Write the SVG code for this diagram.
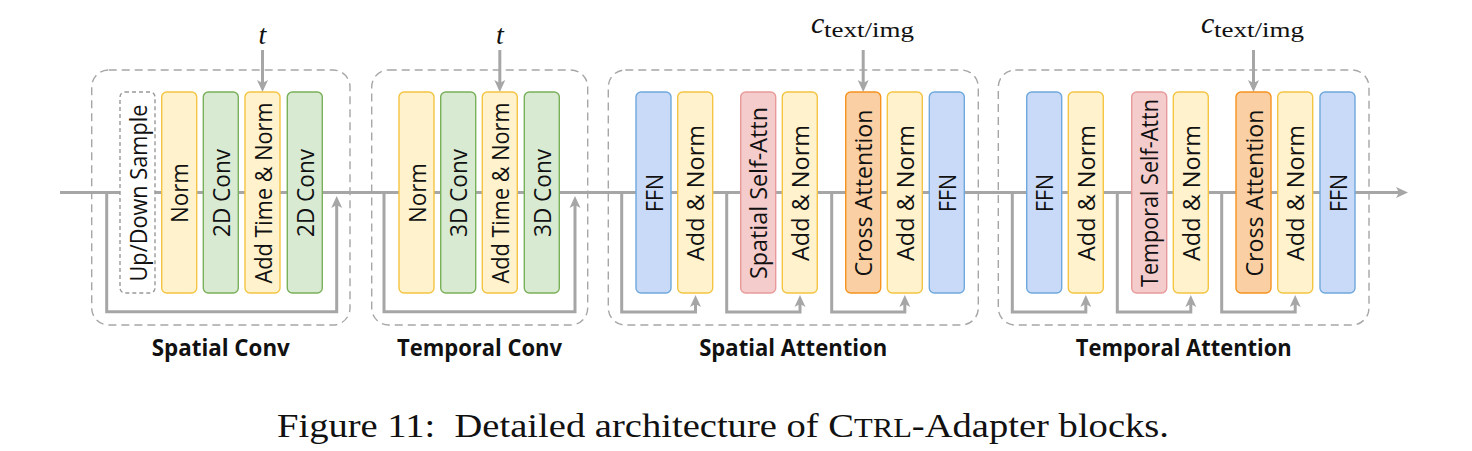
<svg xmlns="http://www.w3.org/2000/svg" width="1472" height="451" viewBox="0 0 1472 451">
<style>
.bg{fill:#ffffff}
.grp{fill:none;stroke:#a6a6a6;stroke-width:1.4;stroke-dasharray:8 5}
.blk{stroke-width:1.4}
.y{fill:#fff2cc;stroke:#f4c542}
.g{fill:#d9ead3;stroke:#79b05a}
.b{fill:#c9daf8;stroke:#6fa8dc}
.r{fill:#f4cccc;stroke:#e89a9a}
.o{fill:#f9cfa3;stroke:#f6921e}
.w{fill:#ffffff;stroke:#999999;stroke-dasharray:4 3}
.lbl{font-family:"Open Sans","Liberation Sans",sans-serif;font-size:23.5px;fill:#111111;text-anchor:middle;dominant-baseline:central}
.ttl{font-family:"Open Sans","Liberation Sans",sans-serif;font-size:22.5px;font-weight:bold;fill:#111111;text-anchor:middle}
.ln{fill:none;stroke:#a6a6a6;stroke-width:3}
.math{font-family:"Liberation Serif","Times New Roman",serif;fill:#111111}
.cap{font-family:"Liberation Serif","Times New Roman",serif;font-size:34px;fill:#111111}
</style>
<defs>
<marker id="arr" markerUnits="userSpaceOnUse" markerWidth="12" markerHeight="12" viewBox="0 0 12 12" refX="4" refY="6" orient="auto">
<path d="M0,0.5 L12,6 L0,11.5 L3,6 z" fill="#a6a6a6"/>
</marker>
</defs>
<rect class="bg" x="0" y="0" width="1472" height="451"/>

<g id="groups">
<rect class="grp" x="91.7" y="70" width="258.3" height="255" rx="17"/>
<rect class="grp" x="371.7" y="70" width="216" height="255" rx="17"/>
<rect class="grp" x="608.3" y="70" width="370" height="255" rx="17"/>
<rect class="grp" x="998.3" y="70" width="370.7" height="255" rx="17"/>
</g>

<g id="connectors">
<path class="ln" d="M60,192.5 L1400,192.5" marker-end="url(#arr)"/>
<path class="ln" d="M106.7,192.5 L106.7,311.7 L336.7,311.7 L336.7,204" marker-end="url(#arr)"/>
<path class="ln" d="M384,192.5 L384,311.7 L575,311.7 L575,204" marker-end="url(#arr)"/>
<path class="ln" d="M621.7,192.5 L621.7,312 L695.5,312 L695.5,303" marker-end="url(#arr)"/>
<path class="ln" d="M726.7,192.5 L726.7,312 L800,312 L800,303" marker-end="url(#arr)"/>
<path class="ln" d="M831.7,192.5 L831.7,312 L904.8,312 L904.8,303" marker-end="url(#arr)"/>
<path class="ln" d="M1012.3,192.5 L1012.3,312 L1085.8,312 L1085.8,303" marker-end="url(#arr)"/>
<path class="ln" d="M1117.3,192.5 L1117.3,312 L1190.8,312 L1190.8,303" marker-end="url(#arr)"/>
<path class="ln" d="M1221.7,192.5 L1221.7,312 L1295.2,312 L1295.2,303" marker-end="url(#arr)"/>
<path class="ln" d="M262.5,50 L262.5,84" marker-end="url(#arr)"/>
<path class="ln" d="M499.8,50 L499.8,84" marker-end="url(#arr)"/>
<path class="ln" d="M863.2,50 L863.2,84" marker-end="url(#arr)"/>
<path class="ln" d="M1253.5,50 L1253.5,84" marker-end="url(#arr)"/>
</g>

<g id="sc-updown"><rect class="blk w" x="120" y="92" width="35" height="201" rx="5"/><text class="lbl" x="137.5" y="193" transform="rotate(-90 137.5 193)" textLength="177" lengthAdjust="spacingAndGlyphs">Up/Down Sample</text></g>
<g id="sc-norm"><rect class="blk y" x="161.7" y="92" width="35" height="201" rx="5"/><text class="lbl" x="179.2" y="193" transform="rotate(-90 179.2 193)" textLength="60" lengthAdjust="spacingAndGlyphs">Norm</text></g>
<g id="sc-conv1"><rect class="blk g" x="203.3" y="92" width="35" height="201" rx="5"/><text class="lbl" x="220.8" y="193" transform="rotate(-90 220.8 193)" textLength="88" lengthAdjust="spacingAndGlyphs">2D Conv</text></g>
<g id="sc-addtime"><rect class="blk y" x="245" y="92" width="35" height="201" rx="5"/><text class="lbl" x="262.5" y="193" transform="rotate(-90 262.5 193)" textLength="181" lengthAdjust="spacingAndGlyphs">Add Time &amp; Norm</text></g>
<g id="sc-conv2"><rect class="blk g" x="287.3" y="92" width="35" height="201" rx="5"/><text class="lbl" x="304.8" y="193" transform="rotate(-90 304.8 193)" textLength="88" lengthAdjust="spacingAndGlyphs">2D Conv</text></g>

<g id="tc-norm"><rect class="blk y" x="399" y="92" width="35" height="201" rx="5"/><text class="lbl" x="416.5" y="193" transform="rotate(-90 416.5 193)" textLength="60" lengthAdjust="spacingAndGlyphs">Norm</text></g>
<g id="tc-conv1"><rect class="blk g" x="440.7" y="92" width="35" height="201" rx="5"/><text class="lbl" x="458.2" y="193" transform="rotate(-90 458.2 193)" textLength="88" lengthAdjust="spacingAndGlyphs">3D Conv</text></g>
<g id="tc-addtime"><rect class="blk y" x="482.3" y="92" width="35" height="201" rx="5"/><text class="lbl" x="499.8" y="193" transform="rotate(-90 499.8 193)" textLength="181" lengthAdjust="spacingAndGlyphs">Add Time &amp; Norm</text></g>
<g id="tc-conv2"><rect class="blk g" x="524.3" y="92" width="35" height="201" rx="5"/><text class="lbl" x="541.8" y="193" transform="rotate(-90 541.8 193)" textLength="88" lengthAdjust="spacingAndGlyphs">3D Conv</text></g>

<g id="sa-ffn1"><rect class="blk b" x="636" y="92" width="35" height="201" rx="5"/><text class="lbl" x="653.5" y="193" transform="rotate(-90 653.5 193)" textLength="38" lengthAdjust="spacingAndGlyphs">FFN</text></g>
<g id="sa-an1"><rect class="blk y" x="677.7" y="92" width="35" height="201" rx="5"/><text class="lbl" x="695.2" y="193" transform="rotate(-90 695.2 193)" textLength="136" lengthAdjust="spacingAndGlyphs">Add &amp; Norm</text></g>
<g id="sa-self"><rect class="blk r" x="740.7" y="92" width="35" height="201" rx="5"/><text class="lbl" x="758.2" y="193" transform="rotate(-90 758.2 193)" textLength="172" lengthAdjust="spacingAndGlyphs">Spatial Self-Attn</text></g>
<g id="sa-an2"><rect class="blk y" x="782.3" y="92" width="35" height="201" rx="5"/><text class="lbl" x="799.8" y="193" transform="rotate(-90 799.8 193)" textLength="136" lengthAdjust="spacingAndGlyphs">Add &amp; Norm</text></g>
<g id="sa-cross"><rect class="blk o" x="845.7" y="92" width="35" height="201" rx="5"/><text class="lbl" x="863.2" y="193" transform="rotate(-90 863.2 193)" textLength="167" lengthAdjust="spacingAndGlyphs">Cross Attention</text></g>
<g id="sa-an3"><rect class="blk y" x="887.3" y="92" width="35" height="201" rx="5"/><text class="lbl" x="904.8" y="193" transform="rotate(-90 904.8 193)" textLength="136" lengthAdjust="spacingAndGlyphs">Add &amp; Norm</text></g>
<g id="sa-ffn2"><rect class="blk b" x="929.3" y="92" width="35" height="201" rx="5"/><text class="lbl" x="946.8" y="193" transform="rotate(-90 946.8 193)" textLength="38" lengthAdjust="spacingAndGlyphs">FFN</text></g>

<g id="ta-ffn1"><rect class="blk b" x="1026.7" y="92" width="35" height="201" rx="5"/><text class="lbl" x="1044.2" y="193" transform="rotate(-90 1044.2 193)" textLength="38" lengthAdjust="spacingAndGlyphs">FFN</text></g>
<g id="ta-an1"><rect class="blk y" x="1068.3" y="92" width="35" height="201" rx="5"/><text class="lbl" x="1085.8" y="193" transform="rotate(-90 1085.8 193)" textLength="136" lengthAdjust="spacingAndGlyphs">Add &amp; Norm</text></g>
<g id="ta-self"><rect class="blk r" x="1131.7" y="92" width="35" height="201" rx="5"/><text class="lbl" x="1149.2" y="193" transform="rotate(-90 1149.2 193)" textLength="188" lengthAdjust="spacingAndGlyphs">Temporal Self-Attn</text></g>
<g id="ta-an2"><rect class="blk y" x="1173.3" y="92" width="35" height="201" rx="5"/><text class="lbl" x="1190.8" y="193" transform="rotate(-90 1190.8 193)" textLength="136" lengthAdjust="spacingAndGlyphs">Add &amp; Norm</text></g>
<g id="ta-cross"><rect class="blk o" x="1236" y="92" width="35" height="201" rx="5"/><text class="lbl" x="1253.5" y="193" transform="rotate(-90 1253.5 193)" textLength="167" lengthAdjust="spacingAndGlyphs">Cross Attention</text></g>
<g id="ta-an3"><rect class="blk y" x="1277.7" y="92" width="35" height="201" rx="5"/><text class="lbl" x="1295.2" y="193" transform="rotate(-90 1295.2 193)" textLength="136" lengthAdjust="spacingAndGlyphs">Add &amp; Norm</text></g>
<g id="ta-ffn2"><rect class="blk b" x="1320" y="92" width="35" height="201" rx="5"/><text class="lbl" x="1337.5" y="193" transform="rotate(-90 1337.5 193)" textLength="38" lengthAdjust="spacingAndGlyphs">FFN</text></g>

<g id="inputs">
<text class="math" x="262.5" y="44" font-size="28" font-style="italic" text-anchor="middle">t</text>
<text class="math" x="499.8" y="44" font-size="28" font-style="italic" text-anchor="middle">t</text>
<text class="math" x="811" y="33" font-size="30" font-style="italic">c</text>
<text class="math" x="824" y="37" font-size="20" textLength="90" lengthAdjust="spacingAndGlyphs">text/img</text>
<text class="math" x="1201" y="33" font-size="30" font-style="italic">c</text>
<text class="math" x="1214" y="37" font-size="20" textLength="90" lengthAdjust="spacingAndGlyphs">text/img</text>
</g>

<g id="titles">
<text class="ttl" x="220.8" y="356" textLength="138" lengthAdjust="spacingAndGlyphs">Spatial Conv</text>
<text class="ttl" x="479.5" y="356" textLength="165" lengthAdjust="spacingAndGlyphs">Temporal Conv</text>
<text class="ttl" x="793.2" y="356" textLength="188" lengthAdjust="spacingAndGlyphs">Spatial Attention</text>
<text class="ttl" x="1183.8" y="356" textLength="216" lengthAdjust="spacingAndGlyphs">Temporal Attention</text>
</g>

<text class="cap" x="277" y="437" textLength="892" lengthAdjust="spacingAndGlyphs">Figure 11:&#160; Detailed architecture of C<tspan font-size="27">TRL</tspan>-Adapter blocks.</text>
</svg>
